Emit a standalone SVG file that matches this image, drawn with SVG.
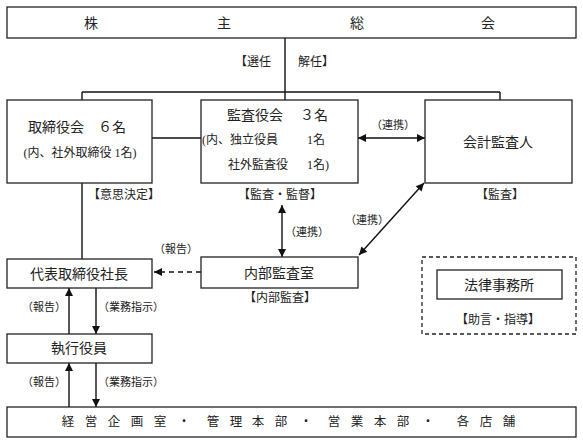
<svg xmlns="http://www.w3.org/2000/svg" width="583" height="445" viewBox="0 0 583 445">
<defs>
<style>
text{font-family:"Liberation Serif","Noto Sans CJK JP",serif;fill:#222;dominant-baseline:central}
.box{fill:#fff;stroke:#222;stroke-width:1.3}
.dbox{fill:none;stroke:#222;stroke-width:1.3;stroke-dasharray:4 3}
.ln{fill:none;stroke:#111;stroke-width:1.4}
.m{text-anchor:middle}
.f14{font-size:14px}
.f12{font-size:12px}
.f11{font-size:12px}
.f10{font-size:11px}
</style>
<marker id="ah2" viewBox="0 0 10 10" refX="10" refY="5" markerWidth="9" markerHeight="8" orient="auto-start-reverse" markerUnits="userSpaceOnUse">
<path d="M0,0 L10,5 L0,10 Z" fill="#111"/>
</marker>
</defs>

<g id="connectors">
<line class="ln" x1="285" y1="38" x2="285" y2="100"/>
<line class="ln" x1="82" y1="92" x2="500" y2="92"/>
<line class="ln" x1="82" y1="92" x2="82" y2="100"/>
<line class="ln" x1="500" y1="92" x2="500" y2="100"/>
<line class="ln" x1="152" y1="138" x2="201" y2="138"/>
<line class="ln" x1="358" y1="138" x2="425" y2="138" marker-start="url(#ah2)" marker-end="url(#ah2)"/>
<line class="ln" x1="82" y1="183" x2="82" y2="259"/>
<line class="ln" x1="282" y1="205" x2="282" y2="257" marker-start="url(#ah2)" marker-end="url(#ah2)"/>
<line class="ln" x1="424" y1="183" x2="359" y2="255" marker-start="url(#ah2)" marker-end="url(#ah2)"/>
<line class="ln" x1="201" y1="272" x2="154" y2="272" stroke-dasharray="5 4" marker-end="url(#ah2)"/>
<line class="ln" x1="69" y1="334" x2="69" y2="288" marker-end="url(#ah2)"/>
<line class="ln" x1="96" y1="288" x2="96" y2="334" marker-end="url(#ah2)"/>
<line class="ln" x1="69" y1="407" x2="69" y2="363" marker-end="url(#ah2)"/>
<line class="ln" x1="96" y1="363" x2="96" y2="407" marker-end="url(#ah2)"/>
<text class="f11" x="271" y="62" text-anchor="end">【選任</text>
<text class="f11" x="298" y="62">解任】</text>
<text class="f10 m" x="393" y="125">（連携）</text>
<text class="f10 m" x="307" y="232">（連携）</text>
<text class="f10 m" x="367" y="220">（連携）</text>
<text class="f10 m" x="176" y="249">（報告）</text>
<text class="f10 m" x="44" y="307">（報告）</text>
<text class="f10 m" x="131" y="307">（業務指示）</text>
<text class="f10 m" x="44" y="382">（報告）</text>
<text class="f10 m" x="131" y="382">（業務指示）</text>
</g>

<g id="shareholders">
<rect class="box" x="7" y="7" width="569" height="31"/>
<text class="f14 m" x="91" y="23">株</text>
<text class="f14 m" x="224" y="23">主</text>
<text class="f14 m" x="357" y="23">総</text>
<text class="f14 m" x="488" y="23">会</text>
</g>

<g id="board">
<rect class="box" x="7" y="100" width="145" height="83"/>
<text class="f14 m" x="77" y="127">取締役会　６名</text>
<text class="f12 m" x="80" y="153" font-size="12.5">(内、社外取締役 1名)</text>
<text class="f11 m" x="124" y="195">【意思決定】</text>
</g>

<g id="auditors">
<rect class="box" x="201" y="100" width="157" height="83"/>
<text class="f14" x="227" y="115">監査役会</text>
<text class="f14" x="300" y="115">３名</text>
<text class="f12" x="202" y="140">(内、独立役員</text>
<text class="f12" x="307" y="140">1名</text>
<text class="f12" x="228" y="165">社外監査役</text>
<text class="f12" x="307" y="165">1名)</text>
<text class="f11 m" x="280" y="195">【監査・監督】</text>
</g>

<g id="accountant">
<rect class="box" x="425" y="100" width="147" height="83"/>
<text class="f14 m" x="498" y="142">会計監査人</text>
<text class="f11 m" x="500" y="195">【監査】</text>
</g>

<g id="president">
<rect class="box" x="7" y="259" width="145" height="29"/>
<text class="f14 m" x="79" y="274">代表取締役社長</text>
</g>

<g id="internal-audit">
<rect class="box" x="201" y="257" width="157" height="31"/>
<text class="f14 m" x="279" y="273">内部監査室</text>
<text class="f11 m" x="280" y="298">【内部監査】</text>
</g>

<g id="law-firm">
<rect class="dbox" x="422" y="257" width="154" height="77"/>
<rect class="box" x="437" y="270" width="125" height="29"/>
<text class="f14 m" x="499" y="285">法律事務所</text>
<text class="f11 m" x="498" y="320">【助言・指導】</text>
</g>

<g id="officers">
<rect class="box" x="7" y="334" width="145" height="29"/>
<text class="f14 m" x="79" y="348">執行役員</text>
</g>

<g id="departments">
<rect class="box" x="7" y="407" width="569" height="30"/>
<text class="m" x="68 91 114 137 160 184 213 236 258 281 306 334 357 380 403 428 463 486 509" y="422" font-size="12.5">経営企画室・管理本部・営業本部・各店舗</text>
</g>
</svg>
